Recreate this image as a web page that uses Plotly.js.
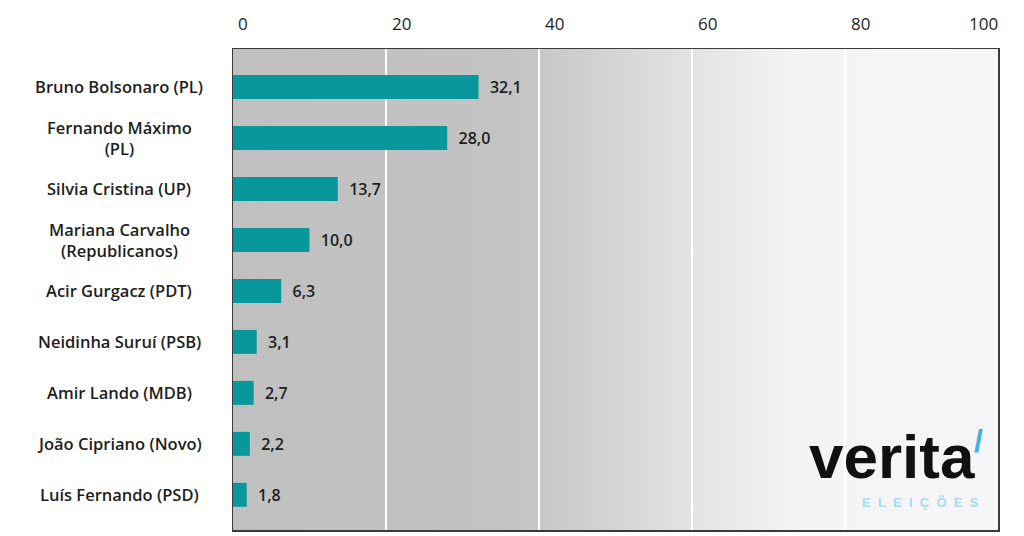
<!DOCTYPE html>
<html>
<head>
<meta charset="utf-8">
<script src="https://cdn.plot.ly/plotly-3.0.1.min.js"></script>
<style>
  html, body { margin: 0; padding: 0; background: #ffffff; }
  #chart { width: 1024px; height: 536px; }
</style>
</head>
<body>
<div id="chart"></div>
<script>
const candidates = [
  "Bruno Bolsonaro (PL)",
  "Fernando Máximo<br>(PL)",
  "Silvia Cristina (UP)",
  "Mariana Carvalho<br>(Republicanos)",
  "Acir Gurgacz (PDT)",
  "Neidinha Suruí (PSB)",
  "Amir Lando (MDB)",
  "João Cipriano (Novo)",
  "Luís Fernando (PSD)",
];
const votes = [32.1, 28.0, 13.7, 10.0, 6.3, 3.1, 2.7, 2.2, 1.8];
const tickValues = [0, 20, 40, 60, 80, 100];

const labelFont = { family: "Open Sans, sans-serif", size: 16.5, color: "#1e1e1e", weight: 600 };
const tickFont = { family: "Open Sans, sans-serif", size: 17, color: "#1e1e1e", weight: 500 };

// grey-to-white background of the plot area
const gradientSvg =
  '<svg xmlns="http://www.w3.org/2000/svg" width="765" height="481" preserveAspectRatio="none">' +
  '<defs><linearGradient id="g" x1="0" y1="0" x2="1" y2="0">' +
  '<stop offset="0" stop-color="#c0c0c0"/>' +
  '<stop offset="0.36" stop-color="#c3c3c3"/>' +
  '<stop offset="0.46" stop-color="#cfcfd0"/>' +
  '<stop offset="0.60" stop-color="#e3e3e5"/>' +
  '<stop offset="0.74" stop-color="#f4f4f6"/>' +
  '<stop offset="1" stop-color="#f6f6f8"/>' +
  '</linearGradient></defs>' +
  '<rect width="765" height="481" fill="url(#g)"/></svg>';
const gradientUrl = "data:image/svg+xml;charset=utf-8," + encodeURIComponent(gradientSvg);

const trace = {
  type: "bar",
  orientation: "h",
  y: candidates,
  x: votes,
  width: 0.47,
  marker: { color: "#08989c" },
  text: votes,
  texttemplate: "\u00a0\u00a0%{x:.1f}",
  textposition: "outside",
  cliponaxis: false,
  textfont: { family: "Open Sans, sans-serif", size: 16, color: "#1e1e1e", weight: 600 },
  hoverinfo: "skip",
};

const nameLabels = candidates.map((c) => ({
  xref: "paper",
  yref: "y",
  x: -0.149,
  y: c,
  text: c,
  showarrow: false,
  xanchor: "center",
  align: "center",
  font: labelFont,
}));

// axis numbers sit a little right of their gridline; the last one is pulled back inside the frame
const tickLabels = tickValues.map((v, i) => ({
  xref: "x",
  yref: "paper",
  x: v,
  y: 1,
  yshift: 26,
  xshift: i === tickValues.length - 1 ? -15 : (i === 0 ? 10 : 15),
  text: String(v),
  showarrow: false,
  xanchor: "center",
  yanchor: "middle",
  font: tickFont,
}));

const logo = [
  {
    xref: "paper", yref: "paper", x: 0.862, y: 0.152,
    text: "verita", showarrow: false, xanchor: "center", yanchor: "middle",
    font: { family: "Liberation Sans, Arial, sans-serif", size: 62, color: "#111111", weight: 700 },
  },
  {
    xref: "paper", yref: "paper", x: 0.974, y: 0.185,
    text: "/", showarrow: false, xanchor: "center", yanchor: "middle",
    font: { family: "Liberation Sans, Arial, sans-serif", size: 32, color: "#3fb0e8", weight: 700 },
  },
  {
    xref: "paper", yref: "paper", x: 0.899, y: 0.058,
    text: "E\u00a0\u00a0L\u00a0\u00a0E\u00a0\u00a0I\u00a0\u00a0Ç\u00a0\u00a0Õ\u00a0\u00a0E\u00a0\u00a0S",
    showarrow: false, xanchor: "center", yanchor: "middle",
    font: { family: "Liberation Sans, Arial, sans-serif", size: 13, color: "#a9d9f2", weight: 700 },
  },
];

const layout = {
  width: 1024,
  height: 536,
  margin: { l: 233, r: 26, t: 49, b: 6 },
  paper_bgcolor: "#ffffff",
  plot_bgcolor: "rgba(0,0,0,0)",
  separators: ",.",
  showlegend: false,
  xaxis: {
    side: "top",
    range: [0, 100],
    tickvals: tickValues,
    showticklabels: false,
    ticks: "",
    showgrid: true,
    gridcolor: "#ffffff",
    gridwidth: 2,
    zeroline: false,
    showline: true,
    mirror: true,
    linecolor: "#3a3a3a",
    linewidth: 1.5,
    fixedrange: true,
  },
  yaxis: {
    type: "category",
    range: [8.69, -0.745],
    showticklabels: false,
    ticks: "",
    showgrid: false,
    zeroline: false,
    showline: true,
    mirror: true,
    linecolor: "#3a3a3a",
    linewidth: 1.5,
    fixedrange: true,
  },
  images: [
    {
      source: gradientUrl,
      xref: "paper", yref: "paper",
      x: 0, y: 1, sizex: 1, sizey: 1,
      xanchor: "left", yanchor: "top",
      sizing: "stretch",
      layer: "below",
    },
  ],
  annotations: nameLabels.concat(tickLabels, logo),
};

Plotly.newPlot("chart", [trace], layout, { displayModeBar: false, staticPlot: true });
</script>
</body>
</html>
